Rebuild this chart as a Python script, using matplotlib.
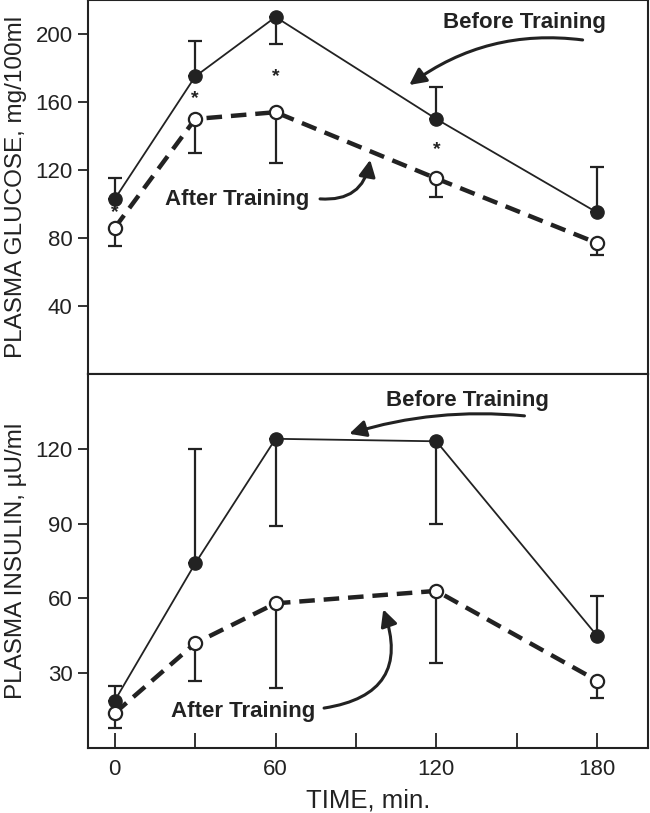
import numpy as np
import matplotlib
matplotlib.use("Agg")
import matplotlib.pyplot as plt

plt.rcParams['font.family'] = ['Liberation Sans', 'DejaVu Sans']

time_min = [0, 30, 60, 120, 180]

glucose_before = [103, 175, 210, 150, 95]
glucose_before_bar = [115, 196, 194, 169, 122]
glucose_after = [86, 150, 154, 115, 77]
glucose_after_bar = [75, 130, 124, 104, 70]
star_times = [0, 30, 60, 120]
star_levels = [95, 162, 175, 132]

insulin_before = [19, 74, 124, 123, 45]
insulin_before_bar = [25, 120, 89, 90, 61]
insulin_after = [14, 42, 58, 63, 27]
insulin_after_bar = [8, 27, 24, 34, 20]

ink = '#222222'


def bar_err(vals, ends):
    vals = np.array(vals, float)
    ends = np.array(ends, float)
    lower = np.clip(vals - ends, 0, None)
    upper = np.clip(ends - vals, 0, None)
    return [lower, upper]


def draw_panel(ax, before, before_bar, after, after_bar):
    ax.errorbar(time_min, before, yerr=bar_err(before, before_bar), fmt='none',
                ecolor=ink, elinewidth=1.6, capsize=5, capthick=1.6, zorder=2)
    ax.errorbar(time_min, after, yerr=bar_err(after, after_bar), fmt='none',
                ecolor=ink, elinewidth=1.6, capsize=5, capthick=1.6, zorder=2)
    ax.plot(time_min, before, '-', color=ink, lw=1.3, marker='o', ms=9.5,
            mfc=ink, mec=ink, zorder=3)
    line, = ax.plot(time_min, after, '--', color=ink, lw=3.2, zorder=3)
    line.set_dashes((3.5, 2.0))
    ax.plot(time_min, after, 'o', ms=9.5, mfc='white', mec=ink, mew=1.6, zorder=4)
    for s in ax.spines.values():
        s.set_linewidth(1.5)
        s.set_color(ink)
    ax.set_xlim(-10, 199)
    ax.tick_params(axis='y', direction='out', length=7, width=1.3, labelsize=16,
                   colors=ink, pad=4)


fig = plt.figure(figsize=(6.5, 8.13), dpi=100)
ax1 = fig.add_axes([0.1354, 0.54, 0.8615, 0.46])
ax2 = fig.add_axes([0.1354, 0.080, 0.8615, 0.46])

# glucose
draw_panel(ax1, glucose_before, glucose_before_bar, glucose_after, glucose_after_bar)
ax1.set_ylim(0, 220)
ax1.set_yticks([40, 80, 120, 160, 200])
ax1.set_xticks([])
ax1.set_ylabel('PLASMA GLUCOSE, mg/100ml', fontsize=17.5, color=ink, labelpad=6)
for t, lv in zip(star_times, star_levels):
    ax1.text(t, lv, '*', ha='center', va='center', fontsize=14, fontweight='bold', color=ink)

arw = dict(arrowstyle='-|>,head_length=1.0,head_width=0.5', color=ink, lw=2.2,
           shrinkA=0, shrinkB=0)
ax1.text(152.9, 206.5, 'Before Training', ha='center', va='center',
         fontsize=16, fontweight='bold', color=ink)
ax1.annotate('', xy=(109.9, 170), xytext=(174.6, 196.5),
             arrowprops=dict(arw, connectionstyle='arc3,rad=0.2'))
ax1.text(45.6, 102.4, 'After Training', ha='center', va='center',
         fontsize=16, fontweight='bold', color=ink)
ax1.annotate('', xy=(95.3, 126), xytext=(76.6, 103),
             arrowprops=dict(arw, connectionstyle='arc3,rad=0.45'))

# insulin
draw_panel(ax2, insulin_before, insulin_before_bar, insulin_after, insulin_after_bar)
ax2.set_ylim(0, 150)
ax2.set_yticks([30, 60, 90, 120])
ax2.set_xticks([0, 30, 60, 90, 120, 150, 180])
ax2.set_xticklabels(['0', '', '60', '', '120', '', '180'])
ax2.tick_params(axis='x', direction='in', length=11, width=1.3, labelsize=16,
                colors=ink, pad=8)
ax2.set_ylabel('PLASMA INSULIN, µU/ml', fontsize=17.5, color=ink, labelpad=6)
ax2.set_xlabel('TIME, min.', fontsize=18.5, color=ink, labelpad=6)

ax2.text(131.6, 139.2, 'Before Training', ha='center', va='center',
         fontsize=16, fontweight='bold', color=ink)
ax2.annotate('', xy=(87.5, 126), xytext=(152.9, 133.2),
             arrowprops=dict(arw, connectionstyle='arc3,rad=0.1'))
ax2.text(47.9, 14.8, 'After Training', ha='center', va='center',
         fontsize=16, fontweight='bold', color=ink)
ax2.annotate('', xy=(100.2, 55.6), xytext=(78.1, 16),
             arrowprops=dict(arw, connectionstyle='arc3,rad=0.6'))

fig.align_ylabels([ax1, ax2])
fig.savefig('out.png', dpi=100)
